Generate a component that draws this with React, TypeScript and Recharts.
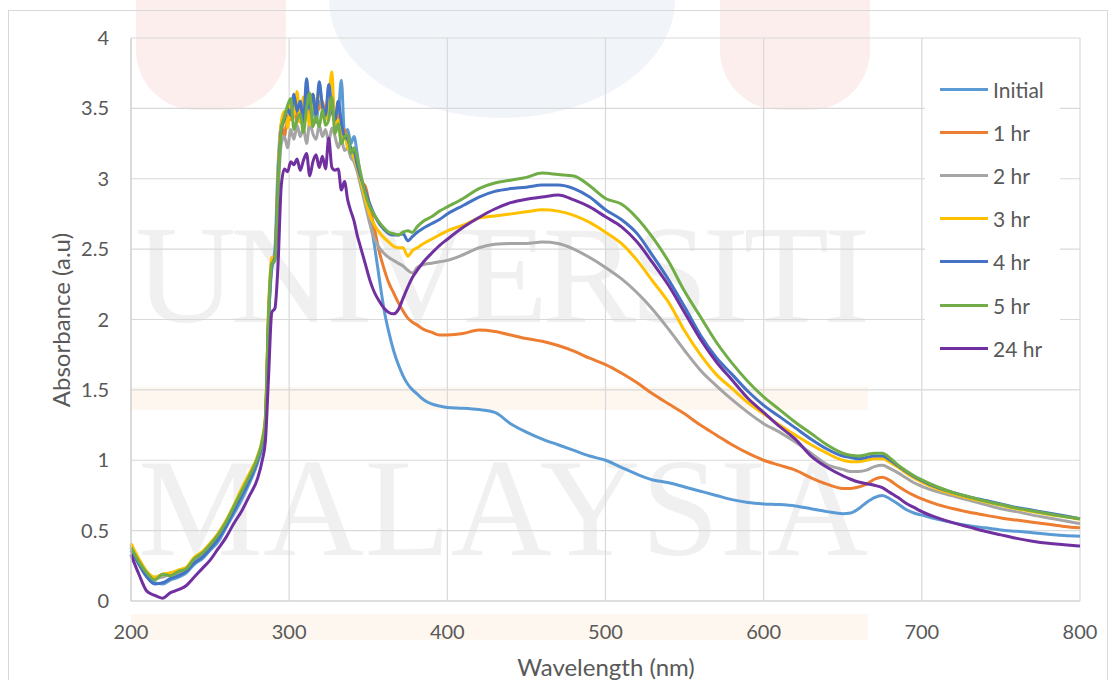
import { LineChart, Line, XAxis, YAxis, CartesianGrid, Legend } from 'recharts'

const FONT = 'Lato, "Open Sans", sans-serif'
const TEXT = '#595959'

// wavelength (nm)
const wavelengths = [
  200, 205, 210, 215, 220, 225, 230, 235, 240, 245, 250, 255, 260, 265, 270, 275, 280,
  283, 285,
  287, 289, 291, 293, 295, 297, 299, 301, 303, 305, 307, 309, 311, 313, 315,
  317, 319, 321, 323, 325, 327, 329, 331, 333, 335, 337, 339, 341, 343, 345,
  348, 351, 354, 357, 360, 363, 366, 369, 372, 375, 378, 381,
  385, 390, 395, 400,
  410, 420, 430, 440, 450, 460, 470, 480, 490, 500, 510, 520, 530, 540, 550, 560, 570, 580, 590, 600, 610, 620, 630, 640, 650,
  655, 660, 665, 670, 675, 680, 685, 690, 695, 700,
  710, 720, 730, 740, 750, 760, 770, 780, 790, 800,
]

const initial = [
  0.38, 0.27, 0.18, 0.13, 0.12, 0.15, 0.17, 0.2, 0.26, 0.3, 0.36, 0.42, 0.52, 0.62, 0.72, 0.84, 0.98,
  1.1, 1.26,
  2.0, 2.36, 2.5, 3.1, 3.38, 3.42, 3.5, 3.45, 3.55, 3.42, 3.5, 3.48, 3.58, 3.45, 3.52,
  3.4, 3.55, 3.5, 3.46, 3.44, 3.5, 3.38, 3.45, 3.7, 3.32, 3.35, 3.25, 3.3, 3.18, 3.02,
  2.88, 2.72, 2.52, 2.29, 2.07, 1.91, 1.78, 1.68, 1.6, 1.54, 1.5, 1.47,
  1.43, 1.4, 1.385, 1.375,
  1.37, 1.36, 1.34, 1.26, 1.2, 1.15, 1.11, 1.07, 1.03, 1.0, 0.95, 0.9, 0.86, 0.84, 0.81, 0.78, 0.75, 0.72, 0.7, 0.69, 0.685, 0.675, 0.655, 0.635, 0.62,
  0.625, 0.655, 0.7, 0.735, 0.75, 0.725, 0.69, 0.65, 0.625, 0.61,
  0.58, 0.555, 0.535, 0.52, 0.505, 0.495, 0.485, 0.475, 0.465, 0.46,
]

const hr1 = [
  0.4, 0.29, 0.2, 0.16, 0.18, 0.2, 0.21, 0.23, 0.3, 0.34, 0.4, 0.47, 0.56, 0.66, 0.78, 0.9, 1.02,
  1.14, 1.3,
  2.05, 2.42, 2.45, 3.0, 3.38, 3.3, 3.45, 3.42, 3.5, 3.4, 3.55, 3.45, 3.5, 3.42, 3.6,
  3.48, 3.5, 3.55, 3.45, 3.62, 3.5, 3.4, 3.45, 3.3, 3.35, 3.25, 3.2, 3.15, 3.08, 2.98,
  2.95, 2.8, 2.64, 2.48, 2.36, 2.26, 2.19, 2.12, 2.06, 2.01, 1.98, 1.96,
  1.93, 1.91, 1.89, 1.89,
  1.9, 1.925, 1.915, 1.89, 1.865, 1.845, 1.815, 1.775, 1.725, 1.68, 1.62, 1.55, 1.47, 1.4, 1.33, 1.25, 1.18, 1.11, 1.05, 1.0, 0.965, 0.93, 0.875, 0.83, 0.8,
  0.8, 0.81, 0.83, 0.865, 0.88, 0.855, 0.815, 0.78, 0.75, 0.725,
  0.685, 0.655, 0.63, 0.61, 0.59, 0.575, 0.56, 0.545, 0.53, 0.52,
]

const hr2 = [
  0.39, 0.28, 0.19, 0.16, 0.17, 0.19, 0.2, 0.22, 0.28, 0.33, 0.38, 0.45, 0.55, 0.65, 0.76, 0.88, 1.0,
  1.12, 1.28,
  2.0, 2.38, 2.42, 2.9, 3.25, 3.3, 3.22, 3.35, 3.28, 3.38, 3.3, 3.36, 3.25, 3.4, 3.32,
  3.28, 3.38, 3.3, 3.35, 3.26, 3.36, 3.3, 3.22, 3.28, 3.2, 3.22, 3.15, 3.12, 3.05, 2.96,
  2.82, 2.68, 2.57, 2.51, 2.47, 2.44, 2.42, 2.4, 2.38, 2.35, 2.33, 2.37,
  2.39, 2.4, 2.41, 2.42,
  2.46, 2.51, 2.535, 2.54, 2.54, 2.55, 2.54, 2.5, 2.44, 2.37, 2.29, 2.19, 2.07, 1.93, 1.78, 1.64, 1.53, 1.43, 1.34, 1.26, 1.2, 1.13, 1.05, 0.97, 0.935,
  0.92, 0.92, 0.93, 0.955, 0.965, 0.94, 0.91, 0.875, 0.84, 0.815,
  0.775, 0.745, 0.715, 0.685, 0.655, 0.635, 0.61, 0.59, 0.57, 0.55,
]

const hr3 = [
  0.41, 0.3, 0.21, 0.17, 0.19, 0.2, 0.22, 0.24, 0.31, 0.35, 0.41, 0.48, 0.57, 0.68, 0.8, 0.91, 1.03,
  1.15, 1.32,
  2.1, 2.44, 2.45, 3.05, 3.4, 3.48, 3.36, 3.55, 3.45, 3.62, 3.4, 3.58, 3.5, 3.38, 3.6,
  3.45, 3.66, 3.5, 3.42, 3.55, 3.76, 3.35, 3.42, 3.28, 3.32, 3.22, 3.2, 3.15, 3.08, 3.0,
  2.86, 2.74, 2.67, 2.62, 2.58, 2.55, 2.52, 2.51, 2.51, 2.45, 2.49, 2.51,
  2.54, 2.57, 2.6, 2.63,
  2.67, 2.72, 2.735, 2.75, 2.765, 2.78, 2.77, 2.74, 2.69, 2.62, 2.54, 2.42, 2.27, 2.12, 1.92, 1.75, 1.61, 1.51, 1.41, 1.33, 1.25, 1.18, 1.11, 1.05, 1.0,
  0.99, 0.99, 1.0, 1.01, 1.01, 0.985, 0.95, 0.91, 0.875, 0.845,
  0.795, 0.76, 0.73, 0.705, 0.68, 0.655, 0.635, 0.615, 0.6, 0.58,
]

const hr4 = [
  0.36, 0.26, 0.17, 0.12, 0.13, 0.16, 0.18, 0.21, 0.27, 0.31, 0.37, 0.44, 0.53, 0.64, 0.75, 0.86, 1.0,
  1.12, 1.27,
  2.0, 2.38, 2.44, 3.0, 3.35, 3.42, 3.5, 3.45, 3.6, 3.48, 3.55, 3.4, 3.71, 3.5, 3.6,
  3.45, 3.69, 3.52, 3.45, 3.67, 3.5, 3.42, 3.55, 3.4, 3.3, 3.28, 3.22, 3.2, 3.1, 3.02,
  2.92, 2.82, 2.74, 2.68, 2.64, 2.61, 2.6, 2.6, 2.61, 2.56, 2.59, 2.62,
  2.65, 2.68, 2.71, 2.75,
  2.81, 2.87, 2.91, 2.93, 2.94, 2.955, 2.955, 2.93, 2.87, 2.78, 2.71, 2.61, 2.45, 2.28, 2.09, 1.89, 1.73, 1.61, 1.49, 1.39, 1.31, 1.23, 1.15, 1.08, 1.03,
  1.02, 1.01, 1.02, 1.03, 1.03, 1.0, 0.96, 0.92, 0.885, 0.855,
  0.805, 0.77, 0.74, 0.715, 0.69, 0.665, 0.645, 0.625, 0.605, 0.585,
]

const hr5 = [
  0.38, 0.28, 0.2, 0.15, 0.19, 0.18, 0.21, 0.23, 0.3, 0.34, 0.4, 0.47, 0.56, 0.67, 0.78, 0.89, 1.02,
  1.14, 1.3,
  2.05, 2.4, 2.42, 2.95, 3.35, 3.44, 3.52, 3.57, 3.35, 3.42, 3.46, 3.33, 3.5, 3.61, 3.37,
  3.44, 3.37, 3.49, 3.38, 3.42, 3.58, 3.32, 3.39, 3.25, 3.3, 3.31, 3.18, 3.22, 3.15, 3.05,
  2.9, 2.8, 2.74, 2.69, 2.65, 2.62, 2.61, 2.6, 2.62, 2.63, 2.62, 2.66,
  2.7, 2.73, 2.77, 2.8,
  2.86, 2.93, 2.97, 2.99, 3.01, 3.04, 3.03, 3.02, 2.95, 2.86, 2.82, 2.72, 2.58, 2.41, 2.2, 2.02, 1.84, 1.69, 1.56, 1.45, 1.36, 1.27, 1.19, 1.11, 1.05,
  1.035, 1.03, 1.04, 1.05, 1.05, 1.015, 0.965, 0.925, 0.89, 0.86,
  0.81, 0.77, 0.74, 0.71, 0.685, 0.66, 0.64, 0.62, 0.6, 0.585,
]

const hr24 = [
  0.33, 0.19, 0.07, 0.04, 0.02, 0.06, 0.08, 0.11, 0.17, 0.23, 0.29, 0.37, 0.45, 0.55, 0.64, 0.75, 0.87,
  1.0, 1.14,
  1.6, 2.05, 2.08, 2.4, 2.95, 3.07, 3.05, 3.12, 3.1, 3.14, 3.06, 3.13, 3.18, 3.02, 3.12,
  3.17, 3.08, 3.16, 3.07, 3.29, 3.08, 3.06, 3.07, 2.92, 2.98, 2.85, 2.77, 2.7, 2.6, 2.52,
  2.4, 2.28, 2.19, 2.13, 2.08, 2.05, 2.04, 2.07, 2.15, 2.23, 2.3, 2.35,
  2.41, 2.47, 2.525, 2.57,
  2.655, 2.725, 2.785, 2.83, 2.855, 2.87, 2.885, 2.85, 2.8, 2.73, 2.66, 2.55, 2.4, 2.24, 2.05, 1.86, 1.7, 1.57, 1.44, 1.34, 1.24, 1.15, 1.03, 0.95, 0.89,
  0.865, 0.845, 0.833, 0.822, 0.805, 0.77, 0.735, 0.695, 0.665, 0.635,
  0.59, 0.555, 0.525, 0.495, 0.47, 0.445, 0.425, 0.41, 0.4, 0.39,
]

const xTicks = [200, 300, 400, 500, 600, 700, 800]
const yTicks = [0, 0.5, 1, 1.5, 2, 2.5, 3, 3.5, 4]

const series = [
  { key: 'initial', name: 'Initial', color: '#5B9BD5', values: initial },
  { key: 'hr1', name: '1 hr', color: '#ED7D31', values: hr1 },
  { key: 'hr2', name: '2 hr', color: '#A5A5A5', values: hr2 },
  { key: 'hr3', name: '3 hr', color: '#FFC000', values: hr3 },
  { key: 'hr4', name: '4 hr', color: '#4472C4', values: hr4 },
  { key: 'hr5', name: '5 hr', color: '#70AD47', values: hr5 },
  { key: 'hr24', name: '24 hr', color: '#7030A0', values: hr24 },
]

const data = wavelengths.map((w, i) => {
  const row: Record<string, number> = { w }
  series.forEach((s) => {
    row[s.key] = s.values[i]
  })
  return row
})

function YTitle() {
  return (
    <text
      x={60}
      y={320}
      transform="rotate(-90 60 320)"
      textAnchor="middle"
      dominantBaseline="central"
      fontSize={24}
      fill={TEXT}
      fontFamily={FONT}
    >
      Absorbance (a.u)
    </text>
  )
}

function XTitle() {
  return (
    <text x={606} y={666} textAnchor="middle" dominantBaseline="central" fontSize={24} fill={TEXT} fontFamily={FONT}>
      Wavelength (nm)
    </text>
  )
}

function LegendBox() {
  return (
    <div style={{ position: 'relative', width: 135, height: 300, background: '#fff' }}>
      {series.map((s, i) => (
        <div
          key={s.key}
          style={{
            position: 'absolute',
            left: 15,
            top: 21 + i * 43.2 - 13,
            height: 26,
            display: 'flex',
            alignItems: 'center',
          }}
        >
          <span style={{ display: 'inline-block', width: 48, height: 3, background: s.color }} />
          <span style={{ marginLeft: 5, fontSize: 21, color: TEXT, fontFamily: FONT, whiteSpace: 'nowrap' }}>
            {s.name}
          </span>
        </div>
      ))}
    </div>
  )
}

// faint watermark behind the plot
function Watermark() {
  return (
    <svg width={1116} height={680} style={{ position: 'absolute', left: 0, top: 0 }}>
      <ellipse cx={502} cy={0} rx={173} ry={118} fill="#F1F5F9" />
      <rect x={136} y={-100} width={150} height={210} rx={60} fill="#FDEEEE" />
      <rect x={720} y={-100} width={150} height={210} rx={60} fill="#FDEEEE" />
      <rect x={131} y={387} width={737} height={23} fill="#FEF7F0" />
      <rect x={131} y={614} width={737} height={26} fill="#FEF7F0" />
      <text x={135} y={322} fontSize={140} fontFamily='"Liberation Serif", serif' fill="#F0F0F0" textLength={735} lengthAdjust="spacing">
        UNIVERSITI
      </text>
      <text x={138} y={555} fontSize={140} fontFamily='"Liberation Serif", serif' fill="#F0F0F0" textLength={730} lengthAdjust="spacing">
        MALAYSIA
      </text>
    </svg>
  )
}

export default function App() {
  return (
    <div style={{ position: 'fixed', left: 0, top: 0, width: 1116, height: 680, background: '#fff', overflow: 'hidden' }}>
      <Watermark />
      <div style={{ position: 'absolute', left: 8, top: 10, width: 1098, height: 700, border: '1px solid #D9D9D9' }} />
      <div style={{ position: 'absolute', left: 0, top: 0 }}>
        <LineChart width={1116} height={680} data={data} margin={{ top: 38, right: 36, bottom: 49, left: 61 }}>
          <CartesianGrid stroke="#D9D9D9" strokeWidth={1.2} />
          <XAxis
            dataKey="w"
            type="number"
            domain={[200, 800]}
            ticks={xTicks}
            height={30}
            tickLine={false}
            tickSize={0}
            tickMargin={24}
            axisLine={{ stroke: '#D0D0D0', strokeWidth: 1.2 }}
            tick={{ fontSize: 20, fill: TEXT, fontFamily: FONT }}
            label={<XTitle />}
          />
          <YAxis
            type="number"
            domain={[0, 4]}
            ticks={yTicks}
            width={70}
            tickLine={false}
            tickSize={0}
            tickMargin={22}
            axisLine={{ stroke: '#D0D0D0', strokeWidth: 1.2 }}
            tick={{ fontSize: 20, fill: TEXT, fontFamily: FONT }}
            label={<YTitle />}
          />
          <Legend
            layout="vertical"
            align="center"
            verticalAlign="middle"
            content={<LegendBox />}
            wrapperStyle={{ left: 925, top: 68, width: 135, height: 300 }}
          />
          {series.map((s) => (
            <Line
              key={s.key}
              dataKey={s.key}
              name={s.name}
              type="monotone"
              stroke={s.color}
              strokeWidth={3}
              dot={false}
              isAnimationActive={false}
            />
          ))}
        </LineChart>
      </div>
    </div>
  )
}
